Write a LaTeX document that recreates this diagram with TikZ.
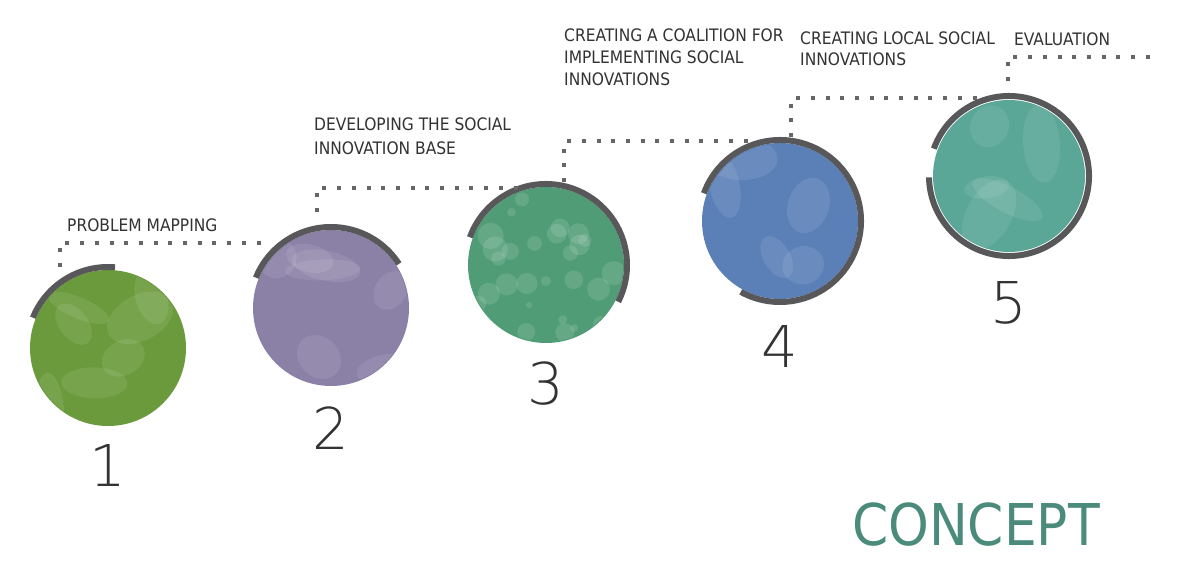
\documentclass[tikz,border=0pt]{standalone}
\usepackage{fontspec}
\setmainfont{DejaVu Sans Condensed}
\newfontfamily\numfont{DejaVu Sans ExtraLight}
\definecolor{ballone}{HTML}{6A9A3B}
\definecolor{balltwo}{HTML}{8B80A6}
\definecolor{ballthree}{HTML}{4F9C76}
\definecolor{ballfour}{HTML}{5B80B8}
\definecolor{ballfive}{HTML}{5AA797}
\definecolor{ringgray}{HTML}{58585A}
\definecolor{dotgray}{HTML}{666666}
\definecolor{txtgray}{HTML}{333333}
\definecolor{concept}{HTML}{4B8B7B}
\begin{document}
\begin{tikzpicture}[x=1pt,y=-1pt,
		ball/.style={circle,minimum size=156pt,inner sep=0pt},
		ring/.style={line width=6pt,color=ringgray},
		dots/.style={line width=4pt,color=dotgray,dash pattern=on 4pt off 10.7pt},
		steplabel/.style={anchor=base west,inner sep=0pt,align=left,text=txtgray,
			font=\fontsize{17.2}{22}\selectfont},
		num/.style={inner sep=0pt,text=txtgray,font=\numfont\fontsize{57.6}{60}\selectfont}]
		\useasboundingbox[fill=white] (0,0) rectangle (1200,580);
		% the five circles
		\node[ball,fill=ballone] (c1) at (108,348) {};
		\node[ball,fill=balltwo] (c2) at (331,308) {};
		\node[ball,fill=ballthree] (c3) at (546,265) {};
		\node[ball,fill=ballfour] (c4) at (780,221) {};
		\node[ball,fill=ballfive,minimum size=152pt] (c5) at (1009,176) {};
		% soft washes
		\pgfmathsetseed{5}
		\foreach \c/\n in {c1/7,c2/7,c4/5,c5/5} {
			\begin{scope}
				\clip (\c.center) circle[radius=77pt];
				\foreach \i in {1,...,\n}
					\fill[white,opacity=.09] ([shift={(rand*65pt,rand*65pt)}]\c.center)
						ellipse[x radius=18pt+rnd*22pt,y radius=10pt+rnd*14pt,rotate=rnd*180];
			\end{scope}
		}
		% bokeh on the third one
		\begin{scope}
			\clip (c3.center) circle[radius=77pt];
			\foreach \i in {1,...,28}
				\fill[white,opacity=.12] ([shift={(rand*70pt,rand*70pt)}]c3.center) circle[radius=3pt+rnd*11pt];
		\end{scope}
		% grey arcs
		\draw[ring] ([shift={(85:81pt)}]c1.center) arc[start angle=85,end angle=158,radius=81pt];
		\draw[ring] ([shift={(33:81pt)}]c2.center) arc[start angle=33,end angle=158,radius=81pt];
		\draw[ring] ([shift={(160:81pt)}]c3.center) arc[start angle=160,end angle=-27,radius=81pt];
		\draw[ring] ([shift={(160:81pt)}]c4.center) arc[start angle=160,end angle=-119,radius=81pt];
		\draw[ring] ([shift={(160:80pt)}]c5.center) arc[start angle=160,end angle=-179,radius=80pt];
		% numbers
		\node[num] (n1) at (108,466) {1};
		\node[num] (n2) at (331,428) {2};
		\node[num] (n3) at (546,384) {3};
		\node[num] (n4) at (780,347) {4};
		\node[num] (n5) at (1009,303) {5};
		% dotted steps
		\coordinate (d1a) at (60,267);  \coordinate (d1b) at (268,243);
		\coordinate (d2a) at (317,212); \coordinate (d2b) at (523,188);
		\coordinate (d3a) at (564,182); \coordinate (d3b) at (755,141);
		\coordinate (d4a) at (791,137); \coordinate (d4b) at (980,98);
		\coordinate (d5a) at (1008,81); \coordinate (d5b) at (1154,57);
		\foreach \i in {1,...,5}
			\draw[dots] (d\i a) |- (d\i b);
		% labels
		\node[steplabel] (l1) at (67,232) {PROBLEM MAPPING};
		\node[steplabel,font=\fontsize{17.2}{24}\selectfont] (l2) at (314,155) {DEVELOPING THE SOCIAL\\INNOVATION BASE};
		\node[steplabel] (l3) at (564,86) {CREATING A COALITION FOR\\IMPLEMENTING SOCIAL\\INNOVATIONS};
		\node[steplabel,font=\fontsize{17.2}{21}\selectfont] (l4) at (800,66) {CREATING LOCAL SOCIAL\\INNOVATIONS};
		\node[steplabel] (l5) at (1014,46) {EVALUATION};
		\node[anchor=base west,inner sep=0pt,text=concept,font=\fontsize{57.6}{60}\selectfont] (title) at (852,545) {CONCEPT};
	\end{tikzpicture}
\end{document}
